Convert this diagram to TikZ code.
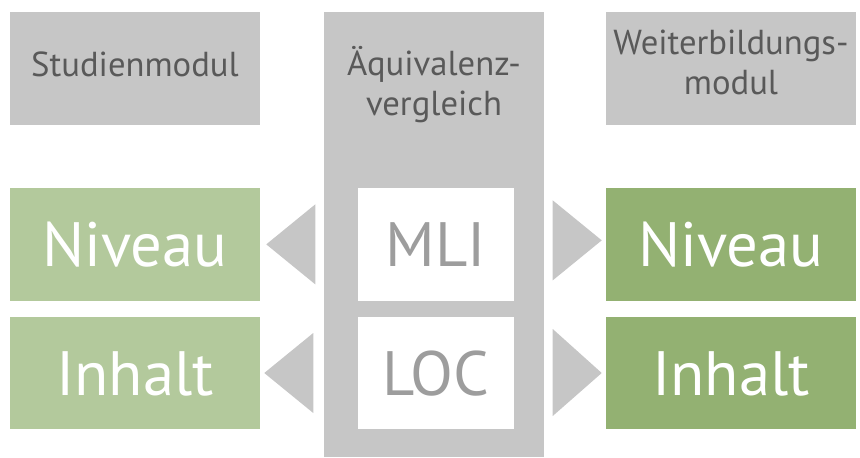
\documentclass[tikz,border=0pt]{standalone}
\usepackage{fontspec}
\setmainfont{PT Sans}
\usetikzlibrary{calc}
\definecolor{boxgray}{HTML}{C6C6C6}
\definecolor{headgray}{HTML}{595959}
\definecolor{codegray}{HTML}{9D9D9D}
\definecolor{lightgreen}{HTML}{B3C99C}
\definecolor{darkgreen}{HTML}{93B172}
\tikzset{
  headbox/.style={fill=boxgray, text=headgray, inner sep=0pt, minimum width=187.5pt, minimum height=84.75pt, align=center, font=\fontsize{26}{29.5}\selectfont},
  headtext/.style={text=headgray, inner sep=0pt, align=center, font=\fontsize{26}{29.5}\selectfont},
  column/.style={fill=boxgray, inner sep=0pt, minimum width=165pt, minimum height=333.75pt},
  studbox/.style={fill=lightgreen, text=white, inner sep=0pt, minimum width=187.5pt, minimum height=84.5pt, text height=33pt, text depth=0pt, font=\fontsize{47}{50}\selectfont},
  weitbox/.style={studbox, fill=darkgreen},
  codebox/.style={studbox, fill=white, text=codegray, minimum width=117pt},
  arrowtri/.style={fill=boxgray}
}
\begin{document}
\begin{tikzpicture}[x=0.75pt, y=-0.75pt]
  \useasboundingbox (0,0) rectangle (860,457);
  % header row
  \node[headbox, text height=11.25pt, text depth=0pt] (stud) at (135,68.5) {Studienmodul};
  \node[headbox, text height=38.25pt, text depth=0pt] (weit) at (731,68.5) {Weiterbildungs-\\modul};
  \node[column] (vgl) at (434,234.5) {};
  \node[headtext, anchor=base] (vgltext) at (434,115) {Äquivalenz-\\vergleich};
  % comparison rows
  \node[studbox] (nivL) at (135,244.35) {Niveau};
  \node[studbox] (inhL) at (135,373) {Inhalt};
  \node[codebox] (mli) at (436,244.35) {MLI};
  \node[codebox] (loc) at (436,373) {LOC};
  \node[weitbox] (nivR) at (731,244.35) {Niveau};
  \node[weitbox] (inhR) at (731,373) {Inhalt};
  % triangles pointing outwards
  \fill[arrowtri] ($(nivL.east)+(6,0)$) -- ($(nivL.east)+(55,-40)$) -- ($(nivL.east)+(55,40)$) -- cycle;
  \fill[arrowtri] ($(inhL.east)+(4,0)$) -- ($(inhL.east)+(53,-40)$) -- ($(inhL.east)+(53,40)$) -- cycle;
  \fill[arrowtri] ($(nivR.west)+(-4,-4)$) -- ($(nivR.west)+(-53,-44)$) -- ($(nivR.west)+(-53,36)$) -- cycle;
  \fill[arrowtri] ($(inhR.west)+(-4,0)$) -- ($(inhR.west)+(-53,-44)$) -- ($(inhR.west)+(-53,43)$) -- cycle;
\end{tikzpicture}
\end{document}
